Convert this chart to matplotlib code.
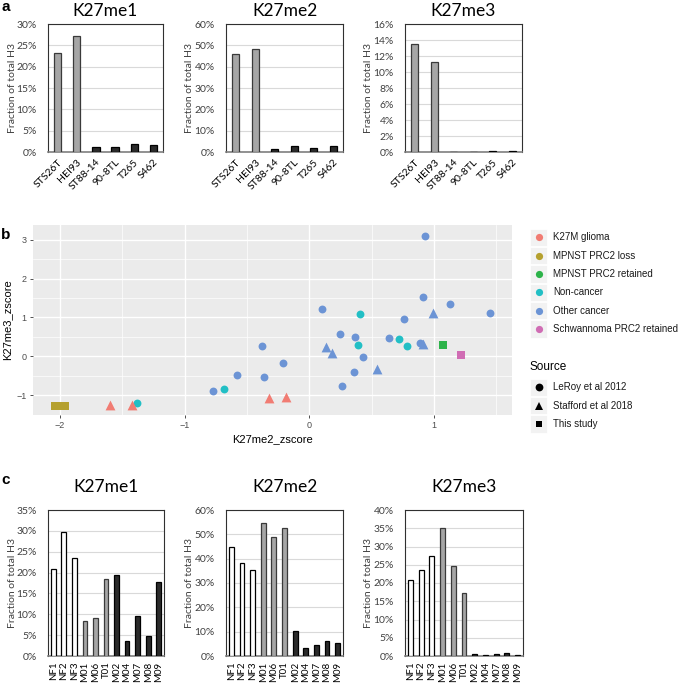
import matplotlib
matplotlib.use('Agg')
import matplotlib.pyplot as plt
from matplotlib.patches import Rectangle
from matplotlib.ticker import PercentFormatter, MultipleLocator
import numpy as np

# ---------------- data ----------------
marks = ['K27me1', 'K27me2', 'K27me3']

cell_lines = ['STS26T', 'HEI93', 'ST88-14', '90-8TL', 'T265', 'S462']
a_me1 = [23.1, 27.2, 1.1, 1.25, 1.95, 1.6]
a_me2 = [45.9, 48.1, 1.6, 2.7, 1.7, 2.7]
a_me3 = [13.5, 11.3, 0.05, 0.05, 0.15, 0.1]
a_group = ['retained', 'retained', 'loss', 'loss', 'loss', 'loss']
a_ymax = [30, 60, 16]
a_step = [5, 10, 2]

samples = ['NF1', 'NF2', 'NF3', 'M01', 'M06', 'T01', 'M02', 'M04', 'M07', 'M08', 'M09']
c_me1 = [20.8, 29.75, 23.6, 8.3, 9.2, 18.5, 19.3, 3.7, 9.5, 4.7, 17.8]
c_me2 = [44.6, 38.3, 35.3, 54.6, 49.0, 52.4, 10.4, 3.4, 4.6, 6.3, 5.2]
c_me3 = [20.8, 23.6, 27.4, 35.1, 24.7, 17.2, 0.45, 0.3, 0.45, 0.8, 0.3]
c_group = ['nf'] * 3 + ['retained'] * 3 + ['loss'] * 5
c_ymax = [35, 60, 40]
c_step = [5, 10, 5]

tumor_types = ['K27M glioma', 'MPNST PRC2 loss', 'MPNST PRC2 retained',
               'Non-cancer', 'Other cancer', 'Schwannoma PRC2 retained']
sources = ['LeRoy et al 2012', 'Stafford et al 2018', 'This study']

b_me2_z = [-2.04, -2.01, -1.99, -1.96, -1.60, -1.42, -0.32, -0.19,
           -1.38, -0.68, 0.41, 0.39, 0.72, 0.78,
           -0.77, -0.58, -0.38, -0.36, -0.21, 0.10, 0.25, 0.37, 0.43, 0.36,
           0.26, 0.64, 0.76, 0.91, 0.93, 1.13, 1.45, 0.89,
           0.13, 0.18, 0.54, 0.99, 0.91,
           1.07, 1.22]
b_me3_z = [-1.28, -1.29, -1.28, -1.28, -1.24, -1.24, -1.08, -1.04,
           -1.21, -0.83, 1.10, 0.29, 0.44, 0.26,
           -0.90, -0.49, 0.27, -0.54, -0.17, 1.22, 0.57, 0.49, -0.03, -0.41,
           -0.77, 0.46, 0.96, 1.53, 3.09, 1.35, 1.11, 0.35,
           0.25, 0.09, -0.33, 1.11, 0.33,
           0.29, 0.04]
b_type = (['MPNST PRC2 loss'] * 4 + ['K27M glioma'] * 4 + ['Non-cancer'] * 6
          + ['Other cancer'] * 18 + ['Other cancer'] * 5
          + ['MPNST PRC2 retained', 'Schwannoma PRC2 retained'])
b_source = (['This study'] * 4 + ['Stafford et al 2018'] * 4 + ['LeRoy et al 2012'] * 6
            + ['LeRoy et al 2012'] * 18 + ['Stafford et al 2018'] * 5
            + ['This study'] * 2)

# ---------------- style ----------------
W, H = 685, 683
XL_FONT = ['Lato', 'DejaVu Sans']
GG_FONT = ['Liberation Sans', 'DejaVu Sans']

type_colors = ['#F17C73', '#B5A02E', '#2DB34A', '#22BFC5', '#6C94D5', '#D06DB4']
source_markers = ['o', '^', 's']
marker_sizes = [32, 50, 27]
bar_face = {'retained': '#A6A6A6', 'loss': '#2B2B2B', 'nf': '#FFFFFF'}
bar_edge = {'retained': '#3A3A3A', 'loss': '#000000', 'nf': '#000000'}

fig = plt.figure(figsize=(6.85, 6.83), dpi=100)


def box(l, t, r, b):
    return [l / W, 1 - b / H, (r - l) / W, (b - t) / H]


def excel_bar(ax, labels, vals, groups, ymax, step, width, rot, xfs):
    x = np.arange(len(labels))
    ax.bar(x, vals, width, color=[bar_face[g] for g in groups],
           edgecolor=[bar_edge[g] for g in groups], linewidth=0.9, zorder=3)
    ax.set_xlim(-0.5, len(labels) - 0.5)
    ax.set_ylim(0, ymax)
    ax.yaxis.set_major_locator(MultipleLocator(step))
    ax.yaxis.set_major_formatter(PercentFormatter(decimals=0))
    ax.grid(axis='y', color='#D9D9D9', lw=0.8, zorder=0)
    ax.set_axisbelow(True)
    for s in ['left', 'top', 'right']:
        ax.spines[s].set_color('#303030')
        ax.spines[s].set_linewidth(0.8)
    ax.spines['bottom'].set_color('#7F7F7F')
    ax.spines['bottom'].set_linewidth(1.2)
    ax.tick_params(axis='both', length=0, labelsize=7.5)
    ax.tick_params(axis='y', pad=8)
    ax.set_xticks(x)
    if rot == 45:
        ax.set_xticklabels(labels, rotation=45, ha='right', rotation_mode='anchor',
                           fontsize=xfs, family=XL_FONT)
        ax.tick_params(axis='x', pad=4)
    else:
        ax.set_xticklabels(labels, rotation=90, fontsize=xfs, family=XL_FONT)
        ax.tick_params(axis='x', pad=4)
    for t in ax.get_yticklabels():
        t.set_family(XL_FONT)
        t.set_color('#404040')
    ax.set_ylabel('Fraction of total H3', fontsize=7.5, family=XL_FONT, color='#404040')
    ax.yaxis.set_label_coords(-0.27, 0.5)


# ---------------- panel a ----------------
a_x = [(48, 163), (226, 343), (405, 522)]
a_vals = [a_me1, a_me2, a_me3]
for i in range(3):
    ax = fig.add_axes(box(a_x[i][0], 24, a_x[i][1], 152))
    excel_bar(ax, cell_lines, a_vals[i], a_group, a_ymax[i], a_step[i], 0.38, 45, 7.5)
    fig.text((a_x[i][0] + a_x[i][1]) / 2 / W, 1 - 11 / H, marks[i], ha='center',
             va='center', fontsize=12.5, family=XL_FONT)

# ---------------- panel c ----------------
c_x = [(48, 164), (226, 343), (405, 523)]
c_vals = [c_me1, c_me2, c_me3]
for i in range(3):
    ax = fig.add_axes(box(c_x[i][0], 510, c_x[i][1], 656))
    excel_bar(ax, samples, c_vals[i], c_group, c_ymax[i], c_step[i], 0.45, 90, 7)
    fig.text((c_x[i][0] + c_x[i][1]) / 2 / W, 1 - 487 / H, marks[i], ha='center',
             va='center', fontsize=12.5, family=XL_FONT)

# ---------------- panel b ----------------
axb = fig.add_axes(box(33, 225, 512, 415))
axb.set_facecolor('#EBEBEB')
bx = np.array(b_me2_z)
by = np.array(b_me3_z)
bt = np.array(b_type)
bs = np.array(b_source)
for si, src in enumerate(sources):
    for ti, tt in enumerate(tumor_types):
        m = (bt == tt) & (bs == src)
        if m.any():
            axb.scatter(bx[m], by[m], s=marker_sizes[si],
                        marker=source_markers[si], color=type_colors[ti],
                        linewidths=0, zorder=3)
axb.set_xlim(-2.215, 1.625)
axb.set_ylim(-1.51, 3.38)
axb.xaxis.set_major_locator(MultipleLocator(1))
axb.yaxis.set_major_locator(MultipleLocator(1))
axb.xaxis.set_minor_locator(MultipleLocator(0.5))
axb.yaxis.set_minor_locator(MultipleLocator(0.5))
axb.grid(which='major', color='white', lw=1.0, zorder=0)
axb.grid(which='minor', color='white', lw=0.5, zorder=0)
axb.set_axisbelow(True)
for s in axb.spines.values():
    s.set_visible(False)
axb.tick_params(which='major', length=2.5, width=0.6, color='#333333',
                labelsize=6.5, labelcolor='#4D4D4D', pad=2)
axb.tick_params(which='minor', length=0)
for t in axb.get_xticklabels() + axb.get_yticklabels():
    t.set_family(GG_FONT)
axb.set_xlabel('K27me2_zscore', fontsize=8, family=GG_FONT, labelpad=3)
axb.set_ylabel('K27me3_zscore', fontsize=8, family=GG_FONT, labelpad=3)

# legend (drawn in pixel space)
axl = fig.add_axes(box(520, 225, 685, 445))
axl.set_xlim(520, 685)
axl.set_ylim(445, 225)
axl.axis('off')
key_x = 538.5
key_size = 17.3
type_rows = [237.3, 255.6, 274.0, 292.3, 310.7, 329.0]
for ti, tt in enumerate(tumor_types):
    axl.add_patch(Rectangle((key_x - key_size / 2, type_rows[ti] - key_size / 2), key_size,
                            key_size, facecolor='#F2F2F2', edgecolor='white', lw=0.6))
    axl.plot([key_x], [type_rows[ti]], 'o', color=type_colors[ti], ms=5.2, mew=0)
    axl.text(553, type_rows[ti], tt, va='center', ha='left', fontsize=7, family=GG_FONT,
             color='#1A1A1A')
axl.text(529, 367, 'Source', va='center', ha='left', fontsize=8.5, family=GG_FONT)
src_rows = [387.3, 405.6, 424.0]
for si, src in enumerate(sources):
    axl.add_patch(Rectangle((key_x - key_size / 2, src_rows[si] - key_size / 2), key_size,
                            key_size, facecolor='#F2F2F2', edgecolor='white', lw=0.6))
    axl.plot([key_x], [src_rows[si]], source_markers[si], color='black',
             ms=5.6 if source_markers[si] != 's' else 4.8, mew=0)
    axl.text(553, src_rows[si], src, va='center', ha='left', fontsize=7, family=GG_FONT,
             color='#1A1A1A')

# panel letters
for lab, y in [('a', 7), ('b', 235), ('c', 480)]:
    fig.text(1 / W, 1 - y / H, lab, ha='left', va='center', fontsize=11,
             fontweight='bold', family=GG_FONT)

fig.savefig('out.png', dpi=100)
